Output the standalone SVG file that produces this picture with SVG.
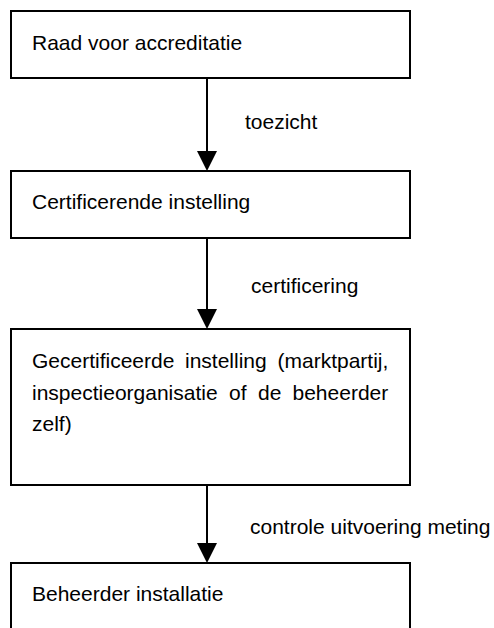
<svg xmlns="http://www.w3.org/2000/svg" width="494" height="628" viewBox="0 0 494 628">
<style>
  .box { fill: #ffffff; stroke: #000000; stroke-width: 2; }
  .t { font-family: "Liberation Sans", Arial, sans-serif; font-size: 21px; fill: #000000; }
  .edge { stroke: #000000; stroke-width: 2; fill: none; }
  .head { fill: #000000; stroke: none; }
</style>
<rect width="494" height="628" fill="#ffffff"/>
<g id="connectors">
  <line class="edge" x1="207" y1="78" x2="207" y2="152"/>
  <polygon class="head" points="197,151 217,151 207,171"/>
  <line class="edge" x1="207" y1="238" x2="207" y2="310"/>
  <polygon class="head" points="197,309 217,309 207,329"/>
  <line class="edge" x1="207" y1="485" x2="207" y2="544"/>
  <polygon class="head" points="197,543 217,543 207,563"/>
  <text class="t" x="245" y="129">toezicht</text>
  <text class="t" x="251" y="293">certificering</text>
  <text class="t" x="250" y="534">controle uitvoering meting</text>
</g>
<g id="raad">
  <rect class="box" x="11" y="11" width="399" height="67"/>
  <text class="t" x="32" y="49.5">Raad voor accreditatie</text>
</g>
<g id="certificerende">
  <rect class="box" x="11" y="171" width="399" height="67"/>
  <text class="t" x="32" y="209">Certificerende instelling</text>
</g>
<g id="gecertificeerde">
  <rect class="box" x="11" y="329" width="399" height="156"/>
  <text class="t" y="367.5"><tspan x="32">Gecertificeerde</tspan><tspan x="185">instelling</tspan><tspan x="277.5">(marktpartij,</tspan></text>
  <text class="t" y="399.5"><tspan x="32">inspectieorganisatie</tspan><tspan x="229">of</tspan><tspan x="258">de</tspan><tspan x="292.5">beheerder</tspan></text>
  <text class="t" x="32" y="431">zelf)</text>
</g>
<g id="beheerder">
  <rect class="box" x="11" y="563" width="399" height="80"/>
  <text class="t" x="32" y="601">Beheerder installatie</text>
</g>
</svg>
